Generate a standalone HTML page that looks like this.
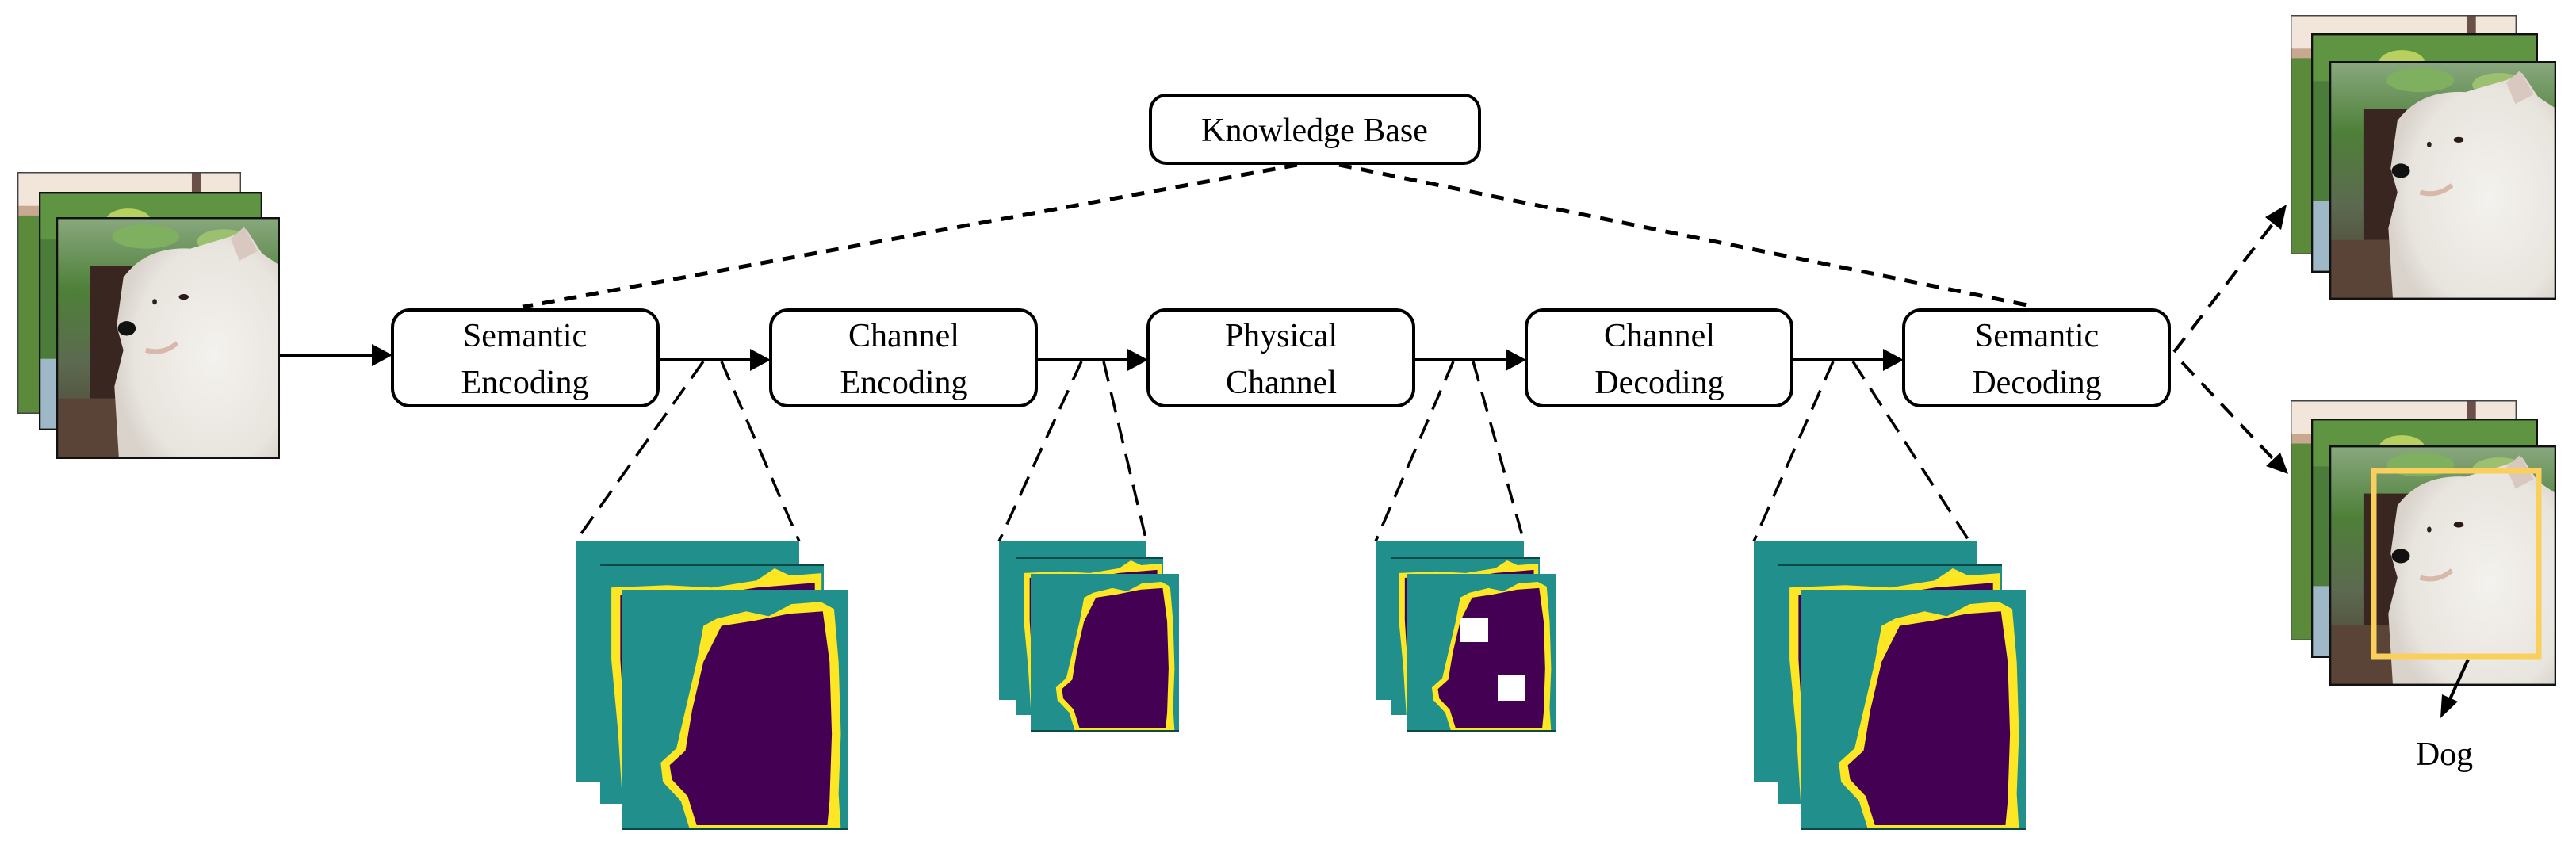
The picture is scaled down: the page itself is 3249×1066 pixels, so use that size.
<!DOCTYPE html>
<html><head><meta charset="utf-8"><style>
html,body{margin:0;padding:0;background:#fff;}
svg{display:block;}
text{font-family:"Liberation Serif",serif;fill:#000;}
</style></head><body>
<svg width="3249" height="1066" viewBox="0 0 3249 1066" xmlns="http://www.w3.org/2000/svg">
<defs>
  <radialGradient id="dogG" cx="0.6" cy="0.55" r="0.6">
    <stop offset="0" stop-color="#f4f2ee"/><stop offset="0.8" stop-color="#e8e4de"/><stop offset="1" stop-color="#d9d3cc"/>
  </radialGradient>
  <linearGradient id="topG" x1="0" y1="0" x2="0" y2="1">
    <stop offset="0" stop-color="#8aa880"/><stop offset="0.3" stop-color="#4e8038"/><stop offset="0.6" stop-color="#5c6a50"/><stop offset="1" stop-color="#4a3a30"/>
  </linearGradient>
  <symbol id="photo" viewBox="0 0 100 100" preserveAspectRatio="none">
    <rect x="0" y="0" width="100" height="100" fill="url(#topG)"/>
    <ellipse cx="40" cy="8" rx="15" ry="5" fill="#7fb060"/>
    <ellipse cx="75" cy="10" rx="12" ry="5" fill="#9cc070"/>
    <rect x="15" y="20" width="22" height="55" fill="#3a2620"/>
    <rect x="0" y="75" width="40" height="25" fill="#5a4438"/>
    <path d="M30,25 Q40,12 60,13 L78,8 L85,5 L92,15 L100,20 L100,100 L28,100 L26,70 L30,55 L27,45 Z" fill="url(#dogG)"/>
    <path d="M78,9 L84,4 L90,14 L82,18 Z" fill="#d8c8c0"/>
    <ellipse cx="31.5" cy="46" rx="4" ry="3" fill="#111"/>
    <ellipse cx="44" cy="35" rx="1" ry="1.2" fill="#222"/>
    <ellipse cx="57" cy="33" rx="2.2" ry="1.2" fill="#2a1a18"/>
    <path d="M40,55 Q48,57 54,52" stroke="#d8b8a8" stroke-width="2" fill="none"/>
    <rect x="0" y="0" width="100" height="100" fill="none" stroke="#111" stroke-width="1.6"/>
  </symbol>
  <symbol id="photoMid" viewBox="0 0 100 100" preserveAspectRatio="none">
    <rect x="0" y="0" width="100" height="100" fill="#4c7c3a"/>
    <rect x="0" y="0" width="100" height="20" fill="#5e9442"/>
    <ellipse cx="40" cy="12" rx="10" ry="5" fill="#b8d060"/>
    <rect x="0" y="70" width="30" height="30" fill="#9fb8c8"/>
    <rect x="0" y="0" width="100" height="100" fill="none" stroke="#111" stroke-width="1.6"/>
  </symbol>
  <symbol id="photoBack" viewBox="0 0 100 100" preserveAspectRatio="none">
    <rect x="0" y="0" width="100" height="100" fill="#5a8a3a"/>
    <rect x="0" y="0" width="100" height="16" fill="#f2e6da"/>
    <rect x="0" y="14" width="100" height="4" fill="#c8a890"/>
    <rect x="78" y="0" width="4" height="16" fill="#6a5048"/>
    <rect x="0" y="0" width="100" height="100" fill="none" stroke="#444" stroke-width="1"/>
  </symbol>
  <symbol id="segF" viewBox="0 0 100 100" preserveAspectRatio="none">
    <rect x="0" y="0" width="100" height="100" fill="#21908d"/>
    <path d="M42,12 L55,9 L65,11 L75,6 L88,5 L94,8 L96,30 L97,60 L96,85 L97,100 L30,100 L26,88 L18,80 L17,72 L24,66 L28,50 L33,30 L36,15 Z" fill="#fde725"/>
    <path d="M44,15 L58,13 L74,10 L89,9 L92,30 L93,60 L92,88 L91,98 L33,98 L29,86 L22,79 L21,73 L28,67 L31,50 L36,30 Z" fill="#440154"/>
    <rect x="0" y="99" width="100" height="1" fill="#0c4a48"/>
  </symbol>
  <symbol id="segM" viewBox="0 0 100 100" preserveAspectRatio="none">
    <rect x="0" y="0" width="100" height="100" fill="#21908d"/>
    <path d="M5,10 L30,9 L50,10 L70,7 L78,2 L85,5 L99,4 L99,100 L10,100 L8,70 L5,40 Z" fill="#fde725"/>
    <path d="M9,13 L30,13 L50,13 L70,10 L96,8 L96,100 L13,100 L11,70 L9,40 Z" fill="#440154"/>
    <rect x="0" y="0" width="100" height="1" fill="#0c4a48"/>
  </symbol>
</defs>

<use href="#photoBack" x="22" y="217" width="282" height="305"/>
<use href="#photoMid" x="49" y="242" width="282" height="301"/>
<use href="#photo" x="71" y="274" width="282" height="305"/>

<g fill="#fff" stroke="#000" stroke-width="4">
  <rect x="1451" y="120" width="415" height="86" rx="20"/>
  <rect x="495" y="391" width="335" height="121" rx="22"/>
  <rect x="972" y="391" width="335" height="121" rx="22"/>
  <rect x="1448" y="391" width="335" height="121" rx="22"/>
  <rect x="1925" y="391" width="335" height="121" rx="22"/>
  <rect x="2401" y="391" width="335" height="121" rx="22"/>
</g>
<g font-size="42" text-anchor="middle">
  <text x="1658" y="178">Knowledge Base</text>
  <text x="662" y="437">Semantic</text><text x="662" y="496">Encoding</text>
  <text x="1140" y="437">Channel</text><text x="1140" y="496">Encoding</text>
  <text x="1616" y="437">Physical</text><text x="1616" y="496">Channel</text>
  <text x="2093" y="437">Channel</text><text x="2093" y="496">Decoding</text>
  <text x="2569" y="437">Semantic</text><text x="2569" y="496">Decoding</text>
  <text x="3083" y="965">Dog</text>
</g>

<g stroke="#000" stroke-width="4">
  <line x1="353" y1="448" x2="470" y2="448"/>
  <line x1="830" y1="454" x2="947" y2="454"/>
  <line x1="1307" y1="454" x2="1423" y2="454"/>
  <line x1="1783" y1="454" x2="1900" y2="454"/>
  <line x1="2260" y1="454" x2="2376" y2="454"/>
</g>
<g fill="#000">
  <polygon points="495,448 469,434 469,462"/>
  <polygon points="972,454 946,440 946,468"/>
  <polygon points="1448,454 1422,440 1422,468"/>
  <polygon points="1925,454 1899,440 1899,468"/>
  <polygon points="2401,454 2375,440 2375,468"/>
</g>

<g stroke="#000" stroke-width="5" stroke-dasharray="16 12" fill="none">
  <line x1="1636" y1="208" x2="660" y2="387"/>
  <line x1="1689" y1="208" x2="2557" y2="385"/>
</g>

<g stroke="#000" stroke-width="3.5" stroke-dasharray="26 14" fill="none">
  <line x1="887" y1="456" x2="726" y2="683"/>
  <line x1="910" y1="456" x2="1008" y2="683"/>
  <line x1="1364" y1="456" x2="1260" y2="683"/>
  <line x1="1392" y1="456" x2="1446" y2="683"/>
  <line x1="1833" y1="456" x2="1735" y2="683"/>
  <line x1="1858" y1="456" x2="1922" y2="683"/>
  <line x1="2312" y1="456" x2="2212" y2="683"/>
  <line x1="2337" y1="456" x2="2484" y2="683"/>
</g>

<rect x="726" y="683" width="282" height="304" fill="#21908d"/>
<use href="#segM" x="757" y="711" width="282" height="303"/>
<use href="#segF" x="785" y="744" width="284" height="303"/>

<rect x="1260" y="683" width="186" height="200" fill="#21908d"/>
<use href="#segM" x="1282" y="703" width="185" height="199"/>
<use href="#segF" x="1300" y="724" width="187" height="199"/>

<rect x="1735" y="683" width="187" height="200" fill="#21908d"/>
<use href="#segM" x="1755" y="703" width="187" height="199"/>
<use href="#segF" x="1774" y="724" width="188" height="199"/>
<rect x="1842" y="779" width="35" height="31" fill="#fff"/>
<rect x="1889" y="852" width="34" height="32" fill="#fff"/>

<rect x="2212" y="683" width="282" height="304" fill="#21908d"/>
<use href="#segM" x="2243" y="711" width="282" height="303"/>
<use href="#segF" x="2271" y="744" width="284" height="303"/>

<g stroke="#000" stroke-width="4" stroke-dasharray="22 14" fill="none">
  <line x1="2742" y1="444" x2="2870" y2="278"/>
  <line x1="2752" y1="457" x2="2868" y2="580"/>
</g>
<g fill="#000">
  <polygon points="2884,258 2857,274 2877,290"/>
  <polygon points="2886,598 2876,571 2858,588"/>
</g>

<use href="#photoBack" x="2889" y="19" width="285" height="302"/>
<use href="#photoMid" x="2915" y="42" width="286" height="302"/>
<use href="#photo" x="2938" y="77" width="286" height="301"/>

<use href="#photoBack" x="2889" y="505" width="285" height="303"/>
<use href="#photoMid" x="2915" y="528" width="286" height="302"/>
<use href="#photo" x="2938" y="562" width="286" height="303"/>
<rect x="2994" y="594" width="208" height="234" fill="none" stroke="#fbcf5b" stroke-width="7"/>

<line x1="3113" y1="832" x2="3090" y2="882" stroke="#000" stroke-width="4"/>
<polygon points="3078,906 3080,876 3100,885" fill="#000"/>
</svg>
</body></html>
